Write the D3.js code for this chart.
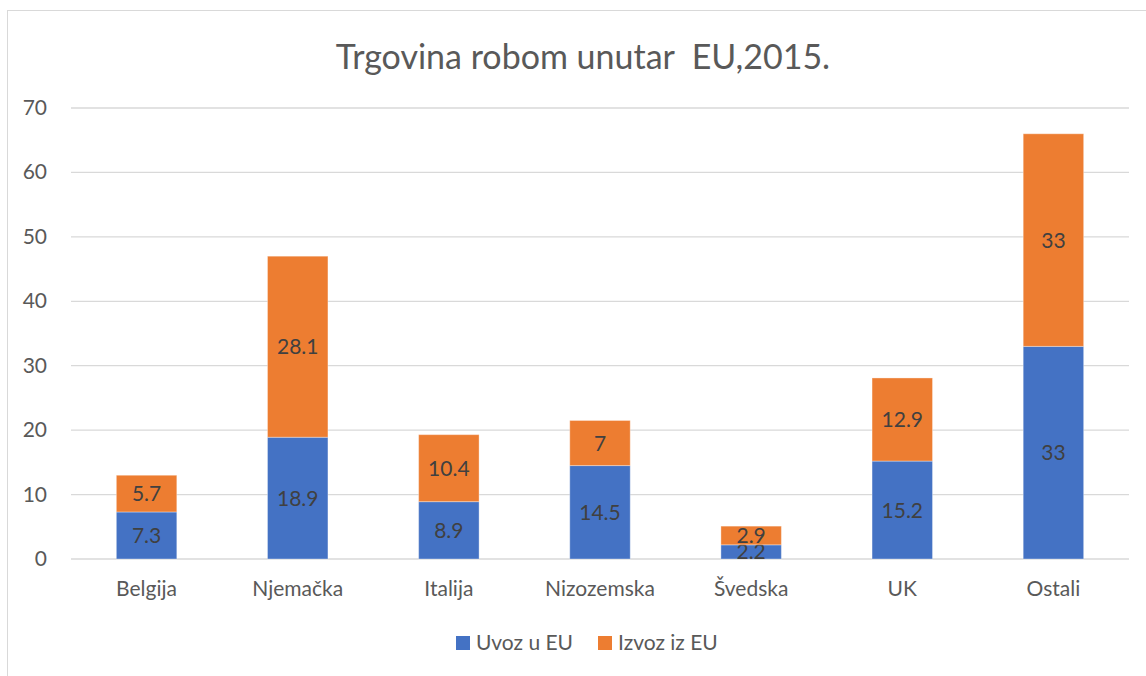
<!DOCTYPE html>
<html>
<head>
<meta charset="utf-8">
<script src="https://cdn.jsdelivr.net/npm/d3@7"></script>
<style>
  body { margin: 0; background: #fff; }
  text { font-family: Lato, "Open Sans", sans-serif; fill: #595959; }
</style>
</head>
<body>
<div id="chart"></div>
<script>
// Podaci
const categories = ["Belgija", "Njemačka", "Italija", "Nizozemska", "Švedska", "UK", "Ostali"]
const uvoz = [7.3, 18.9, 8.9, 14.5, 2.2, 15.2, 33]
const izvoz = [5.7, 28.1, 10.4, 7, 2.9, 12.9, 33]
const seriesNames = ["Uvoz u EU", "Izvoz iz EU"]
const yTicks = [0, 10, 20, 30, 40, 50, 60, 70]

const WIDTH = 1146
const HEIGHT = 676
const COLORS = ["#4472C4", "#ED7D31"]
const MARGIN = { top: 108, bot: 117, left: 71, right: 17 }
const FONT = 21

const svg = d3.select("#chart")
  .append("svg")
  .attr("width", WIDTH)
  .attr("height", HEIGHT)

// okvir
svg.append("rect")
  .attr("x", 7.5)
  .attr("y", 10.5)
  .attr("width", WIDTH + 10)
  .attr("height", HEIGHT + 10)
  .attr("fill", "none")
  .attr("stroke", "#d9d9d9")

svg.append("text")
  .text("Trgovina robom unutar\u00a0 EU,2015.")
  .attr("x", 583)
  .attr("y", 69)
  .attr("text-anchor", "middle")
  .attr("font-size", 34)

const x = d3.scaleBand()
  .domain(categories)
  .range([MARGIN.left, WIDTH - MARGIN.right])
  .paddingInner(0.6)
  .paddingOuter(0.3)

const y = d3.scaleLinear()
  .domain([0, 70])
  .range([HEIGHT - MARGIN.bot, MARGIN.top])

// Grid
svg.append("g")
  .selectAll("line")
  .data(yTicks)
  .join("line")
  .attr("x1", MARGIN.left)
  .attr("x2", WIDTH - MARGIN.right)
  .attr("y1", d => y(d))
  .attr("y2", d => y(d))
  .attr("stroke", "#d9d9d9")
  .attr("stroke-width", 1.3)

svg.append("g")
  .selectAll("text")
  .data(yTicks)
  .join("text")
  .text(d => d)
  .attr("x", 47)
  .attr("y", d => y(d) + 7)
  .attr("text-anchor", "end")
  .attr("font-size", FONT)

svg.append("g")
  .selectAll("text")
  .data(categories)
  .join("text")
  .text(d => d)
  .attr("x", d => x(d) + x.bandwidth() / 2)
  .attr("y", 596)
  .attr("text-anchor", "middle")
  .attr("font-size", FONT)

// Stacked bars
const rows = categories.map((c, i) => ({ cat: c, uvoz: uvoz[i], izvoz: izvoz[i] }))
const stack = d3.stack().keys(["uvoz", "izvoz"])(rows)

const groups = svg.append("g")
  .selectAll("g")
  .data(stack)
  .join("g")
  .attr("fill", (d, i) => COLORS[i])

groups.selectAll("rect")
  .data(d => d)
  .join("rect")
  .attr("x", d => x(d.data.cat))
  .attr("width", x.bandwidth())
  .attr("y", d => y(d[1]))
  .attr("height", d => y(d[0]) - y(d[1]))
  .attr("stroke", "#fff")
  .attr("stroke-opacity", 0.35)
  .attr("stroke-width", 1)

groups.selectAll("text")
  .data(d => d.map(v => ({ v, key: d.key })))
  .join("text")
  .text(d => d.v.data[d.key])
  .attr("x", d => x(d.v.data.cat) + x.bandwidth() / 2)
  .attr("y", d => (y(d.v[0]) + y(d.v[1])) / 2 + 7.5)
  .attr("text-anchor", "middle")
  .attr("font-size", FONT)
  .style("fill", "#404040")

// Legenda
const legendX = [456, 598]
const legend = svg.append("g")
  .selectAll("g")
  .data(seriesNames)
  .join("g")
  .attr("transform", (d, i) => `translate(${legendX[i]}, 636)`)

legend.append("rect")
  .attr("width", 14)
  .attr("height", 14)
  .attr("fill", (d, i) => COLORS[i])

legend.append("text")
  .text(d => d)
  .attr("x", 20)
  .attr("y", 14)
  .attr("font-size", FONT)
</script>
</body>
</html>
